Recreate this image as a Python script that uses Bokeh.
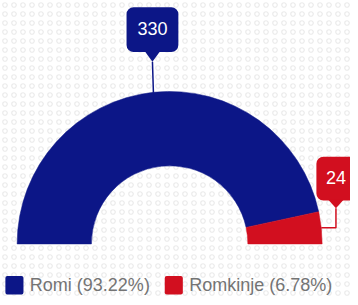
import math
from bokeh.plotting import figure
from bokeh.models import Range1d
from bokeh.core.properties import value
from bokeh.embed import file_html
from bokeh.resources import INLINE

# ---- data ----
categories = ["Romi", "Romkinje"]
counts = [330, 24]
colors = ["#0c1687", "#d20f1f"]

total = sum(counts)
pcts = [c / total * 100 for c in counts]
legend_labels = [f"{n} ({p:.2f}%)" for n, p in zip(categories, pcts)]

# ---- layout: data space = 358x305 picture space (y flipped) ----
RW, RH = 358, 305


def Y(sy):
    return RH - sy


p = figure(frame_width=350, frame_height=297, output_backend="svg",
           toolbar_location=None, x_range=Range1d(0, RW),
           y_range=Range1d(0, RH), min_border=0)
p.title.visible = False
p.axis.visible = False
p.grid.visible = False
p.outline_line_color = None
p.background_fill_color = "white"
p.border_fill_color = "white"

# faint patterned background
p.quad(left=[0], right=[RW], bottom=[0], top=[RH], fill_color="white",
       hatch_pattern="ring", hatch_color="#ebebeb", hatch_scale=9,
       hatch_weight=1.2, line_color=None)

cx, cy = 173, Y(250)
r_in, r_out = 80, 156

# semi-donut: first category starts at the left (pi) going clockwise
ends = []
starts = []
acc = math.pi
for c in counts:
    span = math.pi * c / total
    ends.append(acc)
    starts.append(acc - span)
    acc -= span

p.annular_wedge(x=[cx] * len(counts), y=[cy] * len(counts),
                inner_radius=r_in, outer_radius=r_out,
                start_angle=starts, end_angle=ends,
                fill_color=colors, line_color=colors, line_width=0.5)

mids = [(s + e) / 2 for s, e in zip(starts, ends)]
anchors = [(cx + r_out * math.cos(m), cy + r_out * math.sin(m)) for m in mids]

font = value("Liberation Sans")

# label 1 : straight up
ax, ay = anchors[0]
tip = (ax - 1, ay + 32)
p.line([ax, tip[0]], [ay, tip[1]], line_color=colors[0], line_width=1.5)
bw, bh = 53, 46
bl, bb = tip[0] - bw / 2, tip[1] + 10
p.quad(left=[bl], right=[bl + bw], bottom=[bb], top=[bb + bh],
       fill_color=colors[0], line_color=None, border_radius=7)
p.patch([tip[0] - 8, tip[0] + 8, tip[0]], [bb + 1, bb + 1, tip[1]],
        fill_color=colors[0], line_color=None)
p.text(x=[tip[0]], y=[bb + bh / 2 + 1], text=[str(counts[0])],
       text_align="center", text_baseline="middle", text_font=font,
       text_font_size="18px", text_color="white")

# label 2 : right then up
ax, ay = anchors[1]
kx = ax + 15
tip = (kx, ay + 20)
p.line([ax, kx, kx], [ay, ay, tip[1]], line_color=colors[1], line_width=1.5)
bw, bh = 40, 45
bl, bb = kx - bw / 2, tip[1] + 8
p.quad(left=[bl], right=[bl + bw], bottom=[bb], top=[bb + bh],
       fill_color=colors[1], line_color=None, border_radius=7)
p.patch([kx - 8, kx + 8, kx], [bb + 1, bb + 1, tip[1]],
        fill_color=colors[1], line_color=None)
p.text(x=[kx], y=[bb + bh / 2 + 1], text=[str(counts[1])],
       text_align="center", text_baseline="middle", text_font=font,
       text_font_size="18px", text_color="white")

# legend
leg_y = Y(292.5)
sq_lefts = [5, 168]
sq_w = 18.5
text_x = [30, 193]
p.quad(left=sq_lefts, right=[l + sq_w for l in sq_lefts],
       bottom=[leg_y - 9.5] * 2, top=[leg_y + 9.5] * 2,
       fill_color=colors, line_color=None, border_radius=2)
p.text(x=text_x, y=[leg_y] * 2, text=legend_labels, text_align="left",
       text_baseline="middle", text_font=font, text_font_size="18px",
       text_color="#747474")

open("out.html", "w").write(file_html(p, INLINE))
